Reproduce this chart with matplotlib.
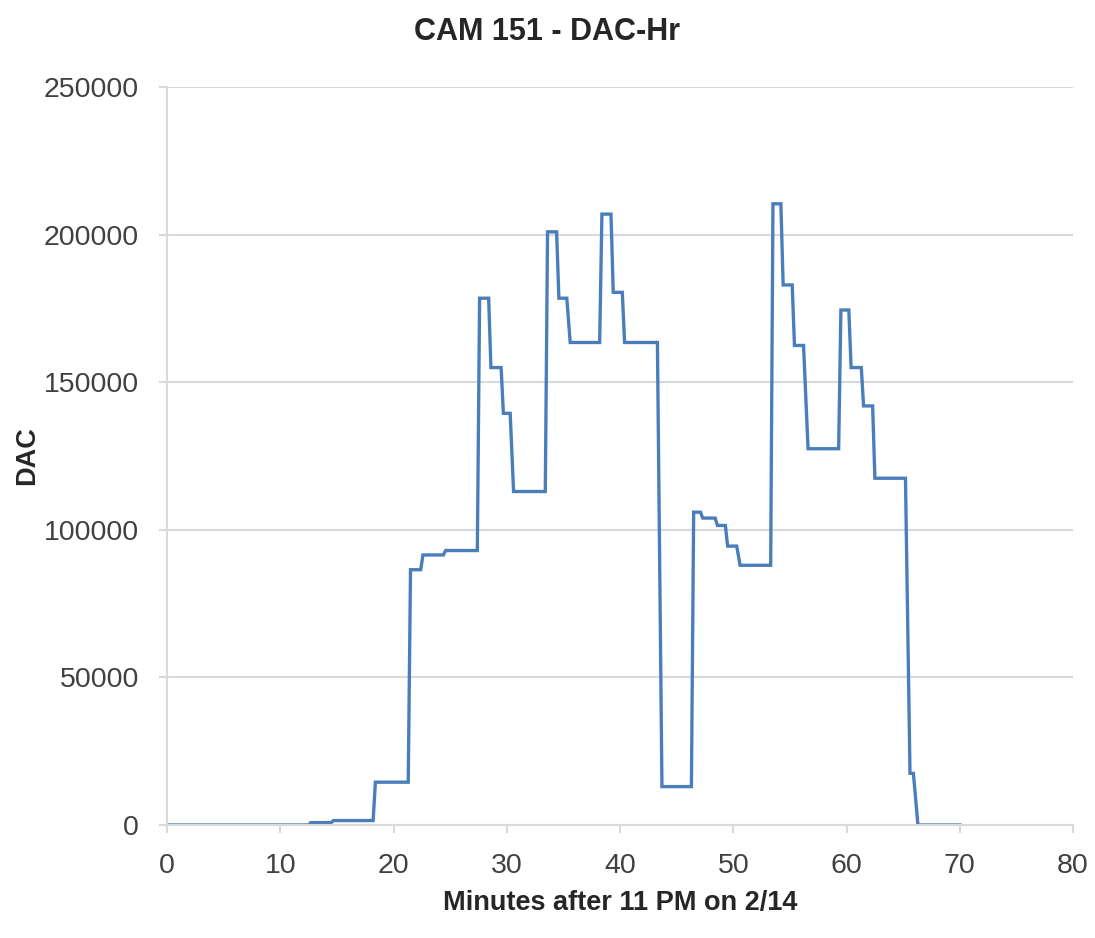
import numpy as np
import matplotlib
matplotlib.use("Agg")
import matplotlib.pyplot as plt

# step trace: minutes after 11 PM and DAC value at each corner
minutes = [0, 12.5, 12.7, 14.5, 14.7, 18.2, 18.4, 21.3, 21.5, 22.4, 22.6, 24.4,
           24.6, 27.4, 27.6, 28.4, 28.6, 29.5, 29.7, 30.3, 30.6, 33.4, 33.6,
           34.4, 34.6, 35.3, 35.6, 38.2, 38.4, 39.2, 39.4, 40.2, 40.4, 43.3,
           43.7, 46.3, 46.5, 47.1, 47.3, 48.4, 48.6, 49.3, 49.5, 50.3, 50.6,
           53.3, 53.5, 54.2, 54.4, 55.2, 55.4, 56.2, 56.6, 59.3, 59.5, 60.2,
           60.4, 61.3, 61.5, 62.3, 62.5, 65.2, 65.6, 65.9, 66.3, 70]
dac = [0, 0, 800, 800, 1500, 1500, 14500, 14500, 86500, 86500, 91500, 91500,
       93000, 93000, 178500, 178500, 155000, 155000, 139500, 139500, 113000,
       113000, 201000, 201000, 178500, 178500, 163500, 163500, 207000, 207000,
       180500, 180500, 163500, 163500, 13000, 13000, 106000, 106000, 104000,
       104000, 101500, 101500, 94500, 94500, 88000, 88000, 210500, 210500,
       183000, 183000, 162500, 162500, 127500, 127500, 174500, 174500, 155000,
       155000, 142000, 142000, 117500, 117500, 17500, 17500, 0, 0]

x_ticks = [0, 10, 20, 30, 40, 50, 60, 70, 80]
y_ticks = [0, 50000, 100000, 150000, 200000, 250000]

plt.rcParams['font.family'] = ['Liberation Sans', 'DejaVu Sans']

fig = plt.figure(figsize=(10.95, 9.38), dpi=100)
ax = fig.add_axes([0.1525, 0.1205, 0.8275, 0.7865])

ax.plot(minutes, dac, color='#4a7ebb', linewidth=2.4, solid_joinstyle='miter')

ax.set_xlim(0, 80)
ax.set_ylim(0, 250000)
ax.set_xticks(x_ticks)
ax.set_yticks(y_ticks)

ax.grid(axis='y', color='#d9d9d9', linewidth=1.5)
ax.set_axisbelow(True)

for side in ['top', 'right']:
    ax.spines[side].set_visible(False)
ax.spines['left'].set_color('#d9d9d9')
ax.spines['bottom'].set_color('#d9d9d9')
ax.spines['left'].set_linewidth(1.5)
ax.spines['bottom'].set_linewidth(1.5)

ax.tick_params(axis='both', length=6, width=1.5, color='#d9d9d9',
               labelsize=20.5, labelcolor='#404040')
ax.tick_params(axis='x', pad=14)
ax.tick_params(axis='y', pad=14)

ax.set_xlabel('Minutes after 11 PM on 2/14', fontsize=19.5, fontweight='bold',
              color='#262626', labelpad=8)
ax.set_ylabel('DAC', fontsize=19.5, fontweight='bold', color='#262626', labelpad=3)

fig.text(0.5, 0.966, 'CAM 151 - DAC-Hr', ha='center', va='center',
         fontsize=22, fontweight='bold', color='#262626')

fig.savefig('out.png', dpi=100)
